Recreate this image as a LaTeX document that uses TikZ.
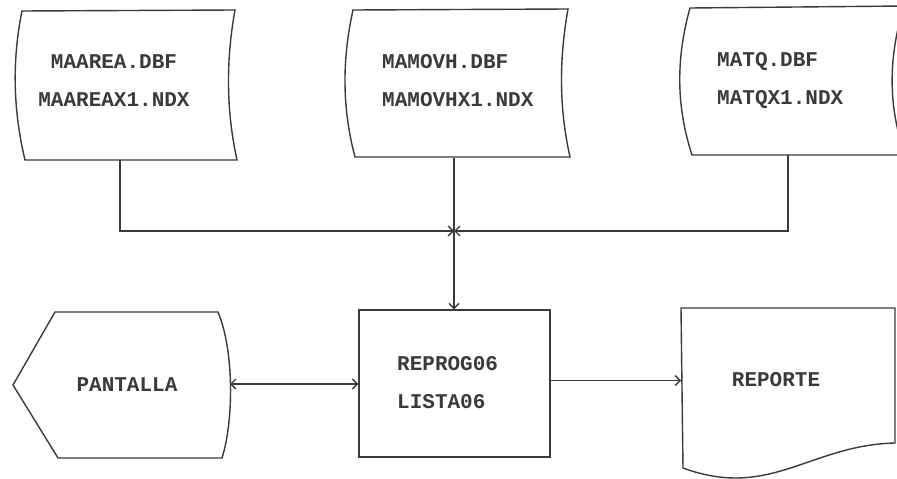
\documentclass[tikz,border=0pt]{standalone}
\usepackage{fontspec}
\setmonofont{Liberation Mono}
\usetikzlibrary{arrows.meta}
\definecolor{ink}{HTML}{3A3A3A}
\tikzset{
  shp/.style={draw=ink, line width=1.4pt},
  hold/.style={draw=none, inner sep=0pt, outer sep=0pt},
  lbl/.style={text=ink, inner sep=0pt, font=\ttfamily\bfseries\fontsize{21}{38}\selectfont},
  arr/.style={draw=ink, line width=1.4pt, -{Straight Barb[length=5pt,width=10pt]}},
  darr/.style={draw=ink, line width=1.4pt, {Straight Barb[length=5pt,width=10pt]}-{Straight Barb[length=5pt,width=10pt]}}
}
\begin{document}
\begin{tikzpicture}[x=1pt,y=-1pt]
\clip (0,0) rectangle (897,479);
\fill[white] (0,0) rectangle (897,479);
% holders (names for connectors)
\node[hold, minimum width=214pt, minimum height=150pt] (f1) at (129,85) {};
\node[hold, minimum width=216pt, minimum height=148pt] (f2) at (461,83.5) {};
\node[hold, minimum width=212pt, minimum height=147pt] (f3) at (796,81.5) {};
\node[hold, minimum width=217pt, minimum height=146pt] (pan) at (121.5,385) {};
\node[hold, minimum width=214pt, minimum height=160pt] (rep) at (788,388) {};
\node[shp, inner sep=0pt, minimum width=191pt, minimum height=147pt] (rp) at (454.5,383.5) {};
% stored data shapes
\draw[shp] (22,11) -- (235,10) .. controls (226,60) and (226,110) .. (237,160)
  -- (25,160) .. controls (13,110) and (12,60) .. (22,11) -- cycle;
\draw[shp] (353,10) -- (568,9) .. controls (559,60) and (559,108) .. (570,157)
  -- (355,157) .. controls (342,108) and (342,60) .. (353,10) -- cycle;
\draw[shp] (690,8) -- (904,6) .. controls (888,58) and (888,106) .. (905,155)
  -- (692,155) .. controls (676,106) and (676,58) .. (690,8) -- cycle;
% display shape
\draw[shp] (55,312) -- (218,312) .. controls (234,350) and (234,420) .. (222,458)
  -- (58,458) -- (13,385) -- cycle;
% document shape
\draw[shp] (681,308) -- (895,308) -- (895,443) .. controls (810,445) and (770,500) .. (683,468) -- cycle;
% texts
\node[lbl, align=center] (t1) at (114,81) {MAAREA.DBF\\MAAREAX1.NDX};
\node[lbl, align=left, anchor=west] (t2) at (382,81) {MAMOVH.DBF\\MAMOVHX1.NDX};
\node[lbl, align=left, anchor=west] (t3) at (717,81) {MATQ.DBF\\MATQX1.NDX};
\node[lbl, align=left, anchor=west] (t4) at (397,383) {REPROG06\\LISTA06};
\node[lbl] (t5) at (127,385) {PANTALLA};
\node[lbl] (t6) at (776,380) {REPORTE};
% connectors
\coordinate (j) at (454,231);
\draw[arr] ([xshift=-9pt]f1.south) |- (j);
\draw[arr] ([xshift=-8pt]f3.south) |- (j);
\draw[arr] ([xshift=-7pt]f2.south) -- ([xshift=-7pt]f2.south |- rp.north);
\draw[darr] ([yshift=1pt]pan.east) -- ([yshift=1pt]pan.east -| rp.west);
\draw[arr] ([yshift=3pt]rp.east) -- ([yshift=3pt]rp.east -| rep.west);
\end{tikzpicture}
\end{document}
